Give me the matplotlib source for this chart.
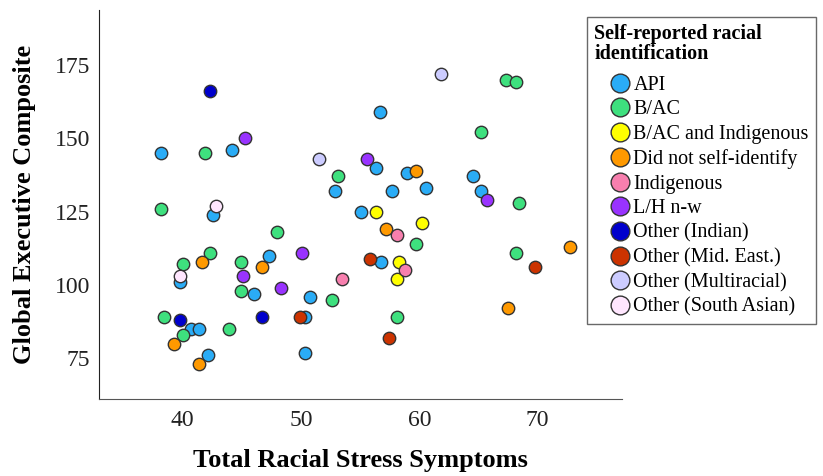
import matplotlib.pyplot as plt
from matplotlib.lines import Line2D

plt.rcParams['font.family'] = ['Liberation Serif', 'DejaVu Serif']

# (Total Racial Stress Symptoms, Global Executive Composite) by group
groups = ["API", "B/AC", "B/AC and Indigenous", "Did not self-identify",
          "Indigenous", "L/H n-w", "Other (Indian)", "Other (Mid. East.)",
          "Other (Multiracial)", "Other (South Asian)"]
colors = ["#2aacf6", "#3ee07e", "#ffff00", "#ff9900", "#f77fae",
          "#9933ff", "#0000cc", "#cc3300", "#ccccff", "#ffe6fe"]

api_x = [38.2, 44.2, 42.55, 39.8, 46.0, 40.7, 41.4, 42.1, 56.7, 56.3, 59.0,
         52.9, 57.65, 60.6, 55.1, 47.3, 56.75, 50.8, 50.35, 50.3, 64.5, 65.2]
api_y = [145, 146, 124, 101, 97, 85, 85, 76, 159, 140, 138,
         132, 132, 133, 125, 110, 108, 96, 89, 77, 137, 132]
bac_x = [41.9, 38.2, 42.3, 40.0, 44.9, 44.9, 38.4, 40.0, 43.9, 53.1, 48.0,
         59.7, 52.6, 58.1, 67.3, 68.2, 65.2, 68.4, 68.2]
bac_y = [145, 126, 111, 107, 108, 98, 89, 83, 85, 137, 118,
         114, 95, 89, 170, 169, 152, 128, 111]
bac_ind_x = [56.3, 60.2, 58.3, 58.1]
bac_ind_y = [125, 121, 108, 102]
dns_x = [41.6, 46.7, 39.3, 41.4, 59.7, 57.2, 72.75, 67.5]
dns_y = [108, 106, 80, 73, 139, 119, 113, 92]
ind_x = [58.1, 58.8, 53.5]
ind_y = [117, 105, 102]
lh_x = [45.3, 45.1, 55.6, 50.1, 48.3, 65.7]
lh_y = [150, 103, 143, 111, 99, 129]
indian_x = [42.3, 39.8, 46.7]
indian_y = [166, 88, 89]
mideast_x = [55.8, 49.9, 57.4, 69.8]
mideast_y = [109, 89, 82, 106]
multi_x = [61.8, 51.5]
multi_y = [172, 143]
sasian_x = [42.8, 39.8]
sasian_y = [127, 103]

xs = [api_x, bac_x, bac_ind_x, dns_x, ind_x, lh_x, indian_x, mideast_x, multi_x, sasian_x]
ys = [api_y, bac_y, bac_ind_y, dns_y, ind_y, lh_y, indian_y, mideast_y, multi_y, sasian_y]

fig = plt.figure(figsize=(8.23, 4.76), dpi=100)
ax = fig.add_axes([0.12, 0.162, 0.636, 0.817])

for x, y, c in zip(xs, ys, colors):
    ax.scatter(x, y, s=80, color=c, edgecolor='#333333', linewidth=1.0, zorder=3)

ax.set_xlim(32.9, 77.15)
ax.set_ylim(61.2, 193.7)
ax.set_xticks([40, 50, 60, 70])
ax.set_yticks([75, 100, 125, 150, 175])
ax.tick_params(axis='x', length=0, labelsize=17, pad=8, colors='#222222')
ax.tick_params(axis='y', length=0, labelsize=17, pad=6, colors='#222222')
for s in ['top', 'right']:
    ax.spines[s].set_visible(False)
ax.spines['left'].set_color('#222222')
ax.spines['bottom'].set_color('#555555')

ax.set_xlabel("Total Racial Stress Symptoms", fontsize=19, fontweight='bold', labelpad=13)
ax.set_ylabel("Global Executive Composite", fontsize=19, fontweight='bold', labelpad=14)

handles = [Line2D([], [], linestyle='none', marker='o', markersize=13.5,
                  markerfacecolor=c, markeredgecolor='#333333', markeredgewidth=1.0)
           for c in colors]
leg = ax.legend(handles, groups, title="Self-reported racial\nidentification",
                loc='upper left', bbox_to_anchor=(587 / 823, 1 - 16.7 / 476),
                bbox_transform=fig.transFigure, fontsize=14.5,
                title_fontproperties={'weight': 'bold', 'size': 14.5},
                alignment='left', frameon=True, fancybox=False,
                handletextpad=-0.65, handlelength=2.6, labelspacing=0.27,
                borderpad=0.35, borderaxespad=0)
leg._legend_box.sep = 8  # extra room under the title
leg.get_title().set_linespacing(1.05)
leg.get_frame().set_edgecolor('#444444')
leg.get_frame().set_linewidth(1.0)

fig.savefig("out.png", dpi=100)
